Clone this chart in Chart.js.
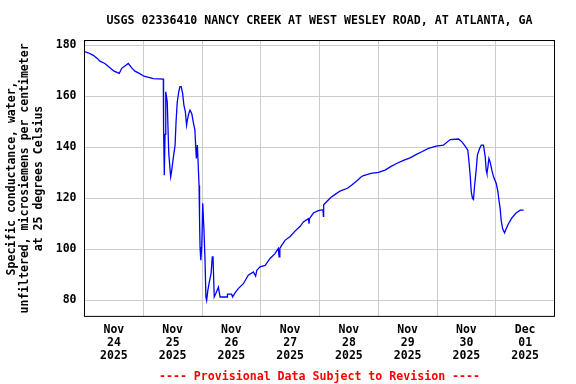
<!DOCTYPE html>
<html><head><meta charset="utf-8">
<script src="https://cdn.jsdelivr.net/npm/chart.js@4/dist/chart.umd.min.js"></script>
<style>html,body{margin:0;padding:0;background:#fff}canvas{display:block}</style>
</head><body>
<canvas id="c" width="576" height="384"></canvas>
<script>
// hours since 2025-11-24 00:00
const hours = [0,1.5,3.6,5.2,6.3,8.3,10.4,12.1,14.2,15.2,
16.5,17.9,19.3,20.6,22.4,24.3,28.1,32.2,32.3,32.6,
32.9,33.2,33.8,34.4,34.9,35.2,35.5,36.3,37.0,37.4,
37.9,38.5,39.0,39.5,40.1,40.6,41.2,41.7,42.0,42.6,
43.1,43.8,44.4,45.1,45.4,45.7,46.1,46.4,46.8,47.0,
47.2,47.5,47.9,48.3,48.8,49.2,49.6,49.9,50.4,51.0,
51.7,52.2,52.5,53.0,53.6,54.7,55.4,58.3,58.4,60.1,
60.5,61.5,62.8,64.9,66.9,69.0,69.9,70.4,71.7,73.8,
75.8,77.8,79.2,79.5,79.8,80.6,81.9,84.0,86.0,88.1,
89.4,91.5,91.7,91.9,93.5,95.5,97.4,97.6,97.7,99.0,
100.6,102.4,104.4,107.4,109.2,111.2,112.6,113.7,117.0,120.1,
122.8,124.9,127.3,130.3,133.0,135.8,137.8,140.5,143.7,146.6,
149.4,152.8,154.2,155.5,156.6,157.2,157.6,158.0,158.5,158.9,
159.3,160.0,160.5,161.4,162.1,163.0,163.7,164.1,164.4,164.8,
165.2,165.7,166.4,167.1,168.2,168.9,169.4,169.8,170.2,170.8,
171.6,172.3,173.2,174.6,176.3,178.0,179.4];
const conductance = [177.5,177,176,174.8,173.7,172.8,171.1,169.8,168.9,170.9,
171.8,172.8,171.1,169.8,168.9,167.8,166.9,166.7,148,129,
145,161.7,157.8,138,131.8,128.4,130,136,140.8,150,
157.8,161.7,163.7,163.7,161,156.5,153.9,148.6,150.6,153.2,
154.5,153.2,150,146.7,140.8,135.6,140.8,134.2,125,111.4,
100.9,95.7,101,118,107.5,97,81.3,80,84,87.2,
90.5,97,97,81.3,82.6,85.2,81.3,81.3,82.4,82.4,
81.3,82.9,84.6,86.5,89.8,91.1,89.5,91.8,93.1,93.7,
96.4,98.3,100.3,97,100.3,101.6,103.5,105,107.1,109,
110.7,112,110,112,114.2,115.1,115.5,112.9,117.4,118.7,
120.3,121.5,122.8,123.9,125.2,126.7,128,128.8,129.7,130.1,
131,132.3,133.5,134.8,135.8,137.3,138.2,139.5,140.4,140.8,
143,143.2,142.1,140.4,138.8,132.9,128.4,122.5,119.9,119.5,
124.4,131,136.9,139.5,140.8,140.8,136.2,131,129.7,132.3,
135.6,134.2,131,128.4,125.8,122.5,118.6,116,111.4,108.1,
106.4,108.1,110,112.3,114.2,115.3,115.3];

const dayLabelHours = [12,36,60,84,108,132,156,180];
const dayLabels = [['Nov','24','2025'],['Nov','25','2025'],['Nov','26','2025'],['Nov','27','2025'],
  ['Nov','28','2025'],['Nov','29','2025'],['Nov','30','2025'],['Dec','01','2025']];
const gridHours = [24,48,72,96,120,144,168];
const yTicks = [80,100,120,140,160,180];

const FONT = 'DejaVu Sans Mono';

const framePlugin = {
  id: 'frame',
  afterDraw(chart) {
    const {ctx, chartArea: a} = chart;
    ctx.save();
    ctx.strokeStyle = '#000';
    ctx.lineWidth = 1;
    ctx.strokeRect(a.left, a.top, a.right - a.left, a.bottom - a.top);
    ctx.restore();
  }
};

new Chart(document.getElementById('c'), {
  type: 'line',
  data: {
    datasets: [{
      data: hours.map((h, i) => ({x: h, y: conductance[i]})),
      borderColor: '#0000ff',
      borderWidth: 1.3,
      pointRadius: 0,
      tension: 0,
      fill: false
    }]
  },
  options: {
    responsive: false,
    animation: false,
    devicePixelRatio: 1,
    layout: {padding: {left: 0, right: 21.5, top: 0, bottom: 0}},
    plugins: {
      legend: {display: false},
      tooltip: {enabled: false},
      title: {
        display: true,
        fullSize: false,
        text: 'USGS 02336410 NANCY CREEK AT WEST WESLEY ROAD, AT ATLANTA, GA',
        color: '#000',
        font: {family: FONT, size: 11.6, weight: 'bold', lineHeight: 1.2},
        padding: {top: 13.7, bottom: 12.9}
      },
      subtitle: {
        display: true,
        position: 'bottom',
        fullSize: false,
        text: '---- Provisional Data Subject to Revision ----',
        color: '#ff0000',
        font: {family: FONT, size: 11.6, weight: 'bold', lineHeight: 1.2},
        padding: {top: 5, bottom: 0.5}
      }
    },
    scales: {
      x: {
        type: 'linear',
        min: 0,
        max: 192,
        afterBuildTicks(s) {
          const t = [];
          for (let v = 0; v <= 192; v += 12) t.push({value: v});
          s.ticks = t;
        },
        afterFit(s) { s.height = 48.2; },
        border: {display: false},
        grid: {
          drawTicks: false,
          color: (c) => (c.tick && gridHours.includes(c.tick.value)) ? '#cccccc' : 'rgba(0,0,0,0)',
          lineWidth: 1
        },
        ticks: {
          autoSkip: false,
          maxRotation: 0,
          padding: 7.6,
          color: '#000',
          font: {family: FONT, size: 11.5, weight: 'bold', lineHeight: 1.11},
          callback: (v) => {
            const i = dayLabelHours.indexOf(v);
            return i >= 0 ? dayLabels[i] : '';
          }
        }
      },
      y: {
        type: 'linear',
        min: 73.7,
        max: 181.8,
        afterBuildTicks(s) { s.ticks = yTicks.map(v => ({value: v})); },
        afterFit(s) { s.width = 84.5; },
        border: {display: false},
        grid: {drawTicks: false, color: '#cccccc', lineWidth: 1},
        ticks: {
          padding: 8,
          color: '#000',
          font: {family: FONT, size: 11.5, weight: 'bold'}
        },
        title: {
          display: true,
          text: ['Specific conductance, water,', 'unfiltered, microsiemens per centimeter', 'at 25 degrees Celsius'],
          color: '#000',
          font: {family: FONT, size: 11.5, weight: 'bold', lineHeight: 1.15},
          padding: {top: 5.5, bottom: 0}
        }
      }
    }
  },
  plugins: [framePlugin]
});
</script>
</body></html>
